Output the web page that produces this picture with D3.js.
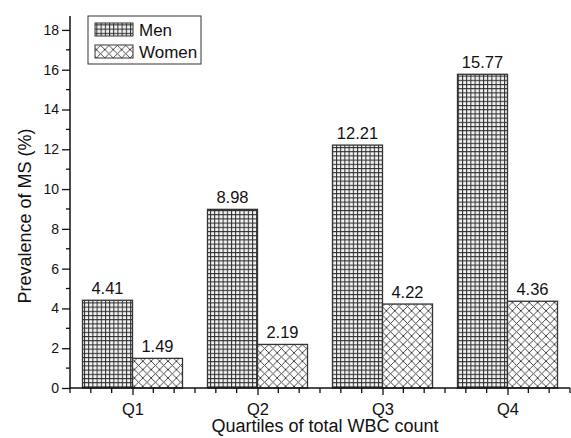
<!DOCTYPE html>
<html>
<head>
<meta charset="utf-8">
<script src="https://cdn.jsdelivr.net/npm/d3@7"></script>
<style>
  body { margin: 0; background: #fff; }
  svg text { font-family: Arial, "Liberation Sans", sans-serif; fill: #111; }
</style>
</head>
<body>
<div id="chart"></div>
<script>
// data
const quartiles = ["Q1", "Q2", "Q3", "Q4"];
const men = [4.41, 8.98, 12.21, 15.77];
const women = [1.49, 2.19, 4.22, 4.36];
const seriesNames = ["Men", "Women"];
const yTicks = [0, 2, 4, 6, 8, 10, 12, 14, 16, 18];

const width = 571, height = 438;
const margin = { left: 70, right: 1, top: 16, bottom: 50 };

const svg = d3.select("#chart").append("svg")
  .attr("width", width)
  .attr("height", height);

const defs = svg.append("defs");

// grid pattern for men
const pm = defs.append("pattern")
  .attr("id", "grid")
  .attr("patternUnits", "userSpaceOnUse")
  .attr("width", 4.2).attr("height", 4.2);
pm.append("rect").attr("width", 4.2).attr("height", 4.2).attr("fill", "#f2f2f2");
pm.append("path").attr("d", "M0,0.5H4.2M0.5,0V4.2")
  .attr("stroke", "#2a2a2a").attr("stroke-width", 1);

// crosshatch for women
const pw = defs.append("pattern")
  .attr("id", "cross")
  .attr("patternUnits", "userSpaceOnUse")
  .attr("width", 8.4).attr("height", 8.4);
pw.append("rect").attr("width", 8.4).attr("height", 8.4).attr("fill", "#fff");
pw.append("path").attr("d", "M0,0L8.4,8.4M8.4,0L0,8.4")
  .attr("stroke", "#333").attr("stroke-width", 0.9);

const fills = ["url(#grid)", "url(#cross)"];

const x = d3.scaleLinear()
  .domain([0.5, 4.5])
  .range([margin.left, width - margin.right]);

const y = d3.scaleLinear()
  .domain([0, 18.7])
  .range([height - margin.bottom, margin.top]);

const barW = 0.4;

// bars
const rows = quartiles.map((q, i) => ({ q: q, i: i + 1, vals: [men[i], women[i]] }));
rows.forEach(r => {
  r.vals.forEach((v, s) => {
    const x0 = s === 0 ? r.i - barW : r.i;
    svg.append("rect")
      .attr("x", x(x0))
      .attr("y", y(v))
      .attr("width", x(x0 + barW) - x(x0))
      .attr("height", y(0) - y(v))
      .attr("fill", fills[s])
      .attr("stroke", "#333")
      .attr("stroke-width", 1.3);
    svg.append("text")
      .attr("x", x(x0 + barW / 2))
      .attr("y", y(v) - 6)
      .attr("text-anchor", "middle")
      .attr("font-size", 16.5)
      .text(v.toFixed(2));
  });
});

// y axis
const yAxis = svg.append("g")
  .attr("transform", "translate(" + margin.left + ",0)")
  .call(d3.axisLeft(y).tickValues(yTicks).tickSize(8).tickPadding(3).tickFormat(d3.format("d")));
yAxis.append("g").selectAll("line")
  .data(d3.range(1, 19, 2))
  .enter().append("line")
  .attr("x1", -4).attr("x2", 0)
  .attr("y1", d => y(d)).attr("y2", d => y(d))
  .attr("stroke", "#111").attr("stroke-width", 1.3);

// x axis
const xAxis = svg.append("g")
  .attr("transform", "translate(0," + y(0) + ")")
  .call(d3.axisBottom(x).tickValues([1, 2, 3, 4]).tickSize(7).tickPadding(8)
    .tickFormat((d, i) => quartiles[i]));
xAxis.append("g").selectAll("line")
  .data(d3.range(0, 25).map(k => 0.5 + k / 6).filter(v => Math.abs(v - Math.round(v)) > 0.01))
  .enter().append("line")
  .attr("x1", d => x(d)).attr("x2", d => x(d))
  .attr("y1", 0).attr("y2", 5)
  .attr("stroke", "#111").attr("stroke-width", 1.3);

[yAxis, xAxis].forEach(a => {
  a.selectAll(".domain").attr("stroke", "#111").attr("stroke-width", 1.5);
  a.selectAll(".tick line").attr("stroke", "#111").attr("stroke-width", 1.3);
  a.selectAll("text").attr("font-family", "Arial, 'Liberation Sans', sans-serif").attr("fill", "#111");
});
yAxis.selectAll("text").attr("font-size", 14);
xAxis.selectAll("text").attr("font-size", 16.5);
yAxis.select(".domain").attr("d", "M0," + margin.top + "V" + y(0));
xAxis.select(".domain").attr("d", "M" + margin.left + ",0H" + (width - margin.right));

// axis titles
svg.append("text")
  .attr("transform", "translate(31,216) rotate(-90)")
  .attr("text-anchor", "middle")
  .attr("font-size", 18)
  .text("Prevalence of MS (%)");

svg.append("text")
  .attr("x", 325)
  .attr("y", 432)
  .attr("text-anchor", "middle")
  .attr("font-size", 18)
  .text("Quartiles of total WBC count");

// legend
const lg = svg.append("g").attr("transform", "translate(88,16)");
lg.append("rect")
  .attr("width", 113).attr("height", 48)
  .attr("fill", "#fff").attr("stroke", "#333").attr("stroke-width", 1);
seriesNames.forEach((n, i) => {
  lg.append("rect")
    .attr("x", 7).attr("y", 7 + i * 22)
    .attr("width", 38).attr("height", 13)
    .attr("fill", fills[i]).attr("stroke", "#333").attr("stroke-width", 1);
  lg.append("text")
    .attr("x", 51).attr("y", 19.5 + i * 22)
    .attr("font-size", 17)
    .text(n);
});
</script>
</body>
</html>
